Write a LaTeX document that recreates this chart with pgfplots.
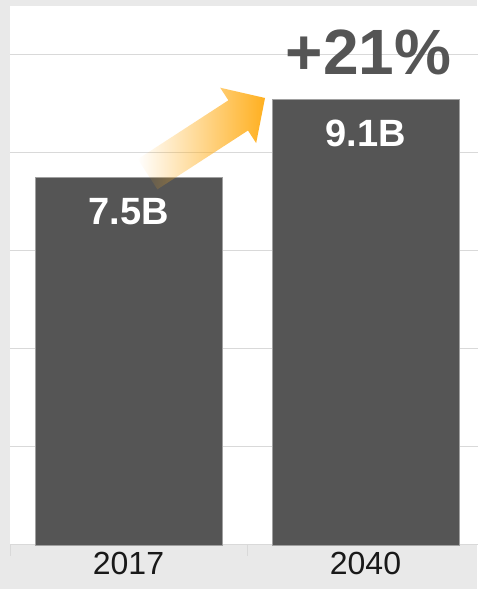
\documentclass[border=0pt]{standalone}
\usepackage{pgfplots}
\pgfplotsset{compat=1.18}
\usepackage{fontspec}
\setmainfont{Liberation Sans}
\usetikzlibrary{fadings}
\definecolor{bg}{HTML}{E9E9E9}
\definecolor{barc}{HTML}{555555}
\definecolor{bard}{HTML}{A0A0A0}
\definecolor{gridc}{HTML}{D9D9D9}
\definecolor{orng}{HTML}{FFB020}
\begin{document}
\begin{tikzpicture}[x=1pt,y=1pt]
\useasboundingbox (0,0) rectangle (477,589);
\fill[bg] (0,0) rectangle (477,589);
\begin{axis}[
  at={(10pt,44pt)}, anchor=south west,
  width=474pt, height=539pt, scale only axis,
  xmin=-0.5, xmax=1.5, ymin=0, ymax=11,
  axis background/.style={fill=white},
  separate axis lines,
  axis x line=bottom, axis y line=left,
  x axis line style={-, draw=gridc, line width=1pt},
  y axis line style={-, draw=none},
  ytick={2,4,6,8,10}, yticklabels={}, ymajorgrids,
  grid style={draw=gridc, line width=1pt},
  major y tick style={draw=none},
  xtick={-0.5,0.5,1.5}, xticklabels={},
  tick align=outside, major tick length=11pt,
  major x tick style={draw=gridc, line width=1pt},
  extra x ticks={0,1}, extra x tick labels={2017,2040},
  extra x tick style={major tick length=0pt, grid=none, tick label style={font=\fontsize{32}{36}\selectfont, text=black!90, anchor=base, yshift=-30pt}},
  ybar, bar width=187pt,
  point meta=explicit symbolic,
  nodes near coords,
  every node near coord/.style={text=white, font=\fontsize{38}{42}\selectfont\bfseries, anchor=base, yshift=-47pt},
  clip=false,
]
\addplot[fill=barc, draw=bard, line width=0.8pt] coordinates {(0,7.5) [7.5B] (1,9.1) [9.1B]};
\end{axis}
\begin{scope}[shift={(265,491)}, rotate=33]
  \fill[orng, path fading=west] (0,0) -- (-32,33) -- (-32,18) -- (-140,18) -- (-140,-18) -- (-32,-18) -- (-32,-33) -- cycle;
\end{scope}
\node[anchor=base, text=barc, font=\fontsize{64}{70}\selectfont\bfseries, inner sep=0pt] at (368.5,514) {+21\%};
\end{tikzpicture}
\end{document}
